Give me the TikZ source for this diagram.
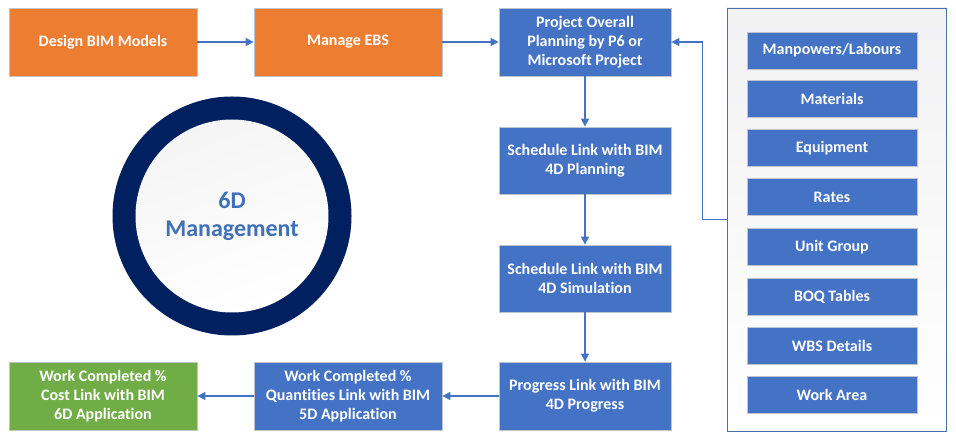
\documentclass[tikz,border=0pt]{standalone}
\usepackage{fontspec}
\setmainfont[Ligatures=NoCommon]{Carlito}
\usetikzlibrary{arrows.meta}
\definecolor{orng}{HTML}{ED7D31}
\definecolor{blu}{HTML}{4472C4}
\definecolor{grn}{HTML}{70AD47}
\definecolor{navy}{HTML}{002060}
\definecolor{edge}{HTML}{C0C4CC}
\definecolor{frame}{HTML}{4A6EA8}
\definecolor{txtblue}{HTML}{4070B8}
\begin{document}
\begin{tikzpicture}[x=1pt,y=-1pt,
  box/.style={draw=edge, line width=0.8pt, text=white, align=center,
    font=\fontsize{16}{19}\selectfont\bfseries, inner sep=2pt},
  obox/.style={box, fill=orng, minimum width=188pt, minimum height=68pt},
  bbox/.style={box, fill=blu, minimum width=172pt, minimum height=67pt},
  wbox/.style={box, fill=blu, minimum width=188pt, minimum height=68pt},
  gbox/.style={box, fill=grn, minimum width=188pt, minimum height=68pt},
  ibox/.style={box, fill=blu, minimum width=170pt, minimum height=37pt},
  arr/.style={draw=blu, line width=1.3pt, -{Triangle[length=8pt,width=8pt]}}]
\useasboundingbox (0,0) rectangle (956,443);
\fill[white] (0,0) rectangle (956,443);
% container
\shade[shading angle=135, left color=white, right color=white, top color={blue!6!gray!10}, bottom color=white] (727,8) rectangle (946,431);
\node[draw=frame, line width=0.9pt, minimum width=219pt, minimum height=423pt, inner sep=0pt] (cont) at (836.5,219.5) {};
% left flow
\node[obox] (design) at (103,42) {Design BIM Models};
\node[obox] (ebs) at (348,42) {Manage EBS};
\node[bbox, minimum height=68pt] (proj) at (585,42) {Project Overall\\Planning by P6 or\\Microsoft Project};
\node[bbox] (s1) at (585,160.5) {Schedule Link with BIM\\4D Planning};
\node[bbox] (s2) at (585,278.5) {Schedule Link with BIM\\4D Simulation};
\node[bbox, minimum height=68pt] (prog) at (585,396) {Progress Link with BIM\\4D Progress};
\node[wbox] (quant) at (348,396) {Work Completed \%\\Quantities Link with BIM\\5D Application};
\node[gbox] (cost) at (103,396) {Work Completed \%\\Cost Link with BIM\\6D Application};
% inner boxes
\node[ibox] (i1) at (832,50.5) {Manpowers/Labours};
\node[ibox] (i2) at (832,99) {Materials};
\node[ibox] (i3) at (832,148) {Equipment};
\node[ibox] (i4) at (832,197) {Rates};
\node[ibox] (i5) at (832,247) {Unit Group};
\node[ibox] (i6) at (832,296.5) {BOQ Tables};
\node[ibox] (i7) at (832,345.5) {WBS Details};
\node[ibox] (i8) at (832,394.5) {Work Area};
% circle
\fill[navy] (232,216) circle (119.5);
\shade[top color={blue!5!gray!8}, bottom color=white, shading angle=20] (232,216) circle (96.5);
\node[text=txtblue, align=center, font=\fontsize{24}{28}\selectfont\bfseries] (mgmt) at (232,216) {6D\\Management};
% connectors
\draw[arr] (design) -- (ebs);
\draw[arr] (ebs) -- (proj);
\draw[arr] (proj) -- (s1);
\draw[arr] (s1) -- (s2);
\draw[arr] (s2) -- (prog);
\draw[arr] (prog) -- (quant);
\draw[arr] (quant) -- (cost);
\draw[arr] (cont.west) -- ++(-24,0) |- (proj.east);
\end{tikzpicture}
\end{document}
